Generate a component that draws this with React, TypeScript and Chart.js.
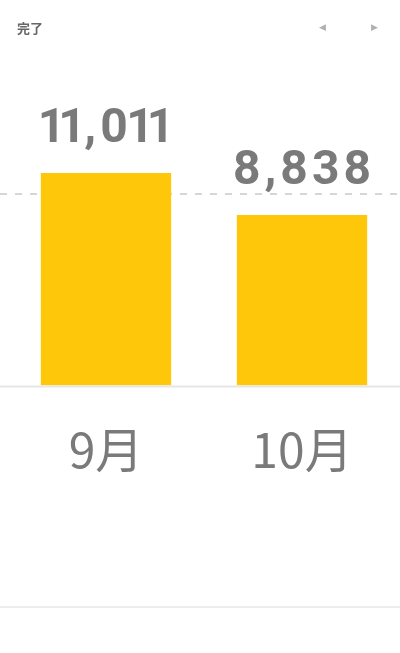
import React, { useEffect, useRef } from 'react';
import { Chart, registerables } from 'chart.js';

Chart.register(...registerables);

// data
const months = ['9月', '10月'];
const completed = [11011, 8838];
const average = [9925];

const grayText = '#7a7a7a';

// draws a centred label with some tracking and a narrow "1" (proportional figures)
function drawLabel(ctx: CanvasRenderingContext2D, text: string, cx: number, y: number) {
  const spacing = 4;
  const oneTrim = 11;
  const adv = (c: string) => ctx.measureText(c).width + spacing - (c === '1' ? oneTrim : 0);
  const chars = text.split('');
  const total = chars.reduce((s, c) => s + adv(c), 0) - spacing;
  let x = cx - total / 2;
  chars.forEach((c) => {
    ctx.fillText(c, c === '1' ? x - oneTrim / 2 : x, y);
    x += adv(c);
  });
}

const lines = {
  id: 'lines',
  beforeDatasetsDraw(chart: any) {
    const { ctx, scales } = chart;
    const w = chart.width;
    // average dashed line
    const yAvg = scales.y.getPixelForValue(average[0]);
    ctx.save();
    ctx.strokeStyle = '#d6d6d6';
    ctx.lineWidth = 2;
    ctx.setLineDash([7, 8]);
    ctx.beginPath();
    ctx.moveTo(0, yAvg);
    ctx.lineTo(w, yAvg);
    ctx.stroke();
    ctx.restore();
  },
  afterDatasetsDraw(chart: any) {
    const { ctx, chartArea } = chart;
    const w = chart.width;
    ctx.save();
    ctx.strokeStyle = '#e6e6e6';
    ctx.lineWidth = 2;
    ctx.beginPath();
    ctx.moveTo(0, chartArea.bottom + 1);
    ctx.lineTo(w, chartArea.bottom + 1);
    ctx.stroke();

    // value labels
    const meta = chart.getDatasetMeta(0);
    ctx.fillStyle = grayText;
    ctx.font = 'bold 48px Roboto, "Noto Sans", sans-serif';
    ctx.textAlign = 'left';
    ctx.textBaseline = 'alphabetic';
    meta.data.forEach((bar: any, i: number) => {
      drawLabel(ctx, completed[i].toLocaleString('en-US'), bar.x, bar.y - 31);
    });
    ctx.restore();
  },
};

const App: React.FC = () => {
  const canvasRef = useRef<HTMLCanvasElement | null>(null);
  const chartRef = useRef<Chart | null>(null);

  useEffect(() => {
    document.body.style.margin = '0';
    if (!canvasRef.current) return;
    const ctx = canvasRef.current.getContext('2d');
    if (!ctx) return;
    if (chartRef.current) {
      chartRef.current.destroy();
      chartRef.current = null;
    }
    chartRef.current = new Chart(ctx, {
      type: 'bar',
      data: {
        labels: months,
        datasets: [
          {
            label: '完了',
            data: completed,
            backgroundColor: '#fec70a',
            borderWidth: 0,
            barPercentage: 0.665,
            categoryPercentage: 1,
          },
        ],
      },
      options: {
        animation: false,
        responsive: false,
        maintainAspectRatio: false,
        layout: { padding: { top: 96, left: 8, right: 0, bottom: 146 } },
        plugins: {
          legend: { display: false },
          tooltip: { enabled: false },
        },
        scales: {
          y: {
            display: false,
            min: 0,
            max: 15000,
          },
          x: {
            grid: { display: false },
            border: { display: false },
            ticks: {
              color: grayText,
              padding: 28,
              font: { size: 48, family: '"Noto Sans CJK JP", "Noto Sans", sans-serif' },
            },
          },
        },
      },
      plugins: [lines],
    });
    return () => {
      if (chartRef.current) {
        chartRef.current.destroy();
        chartRef.current = null;
      }
    };
  }, []);

  return (
    <div style={{ position: 'relative', width: 400, height: 653, background: '#fff', overflow: 'hidden' }}>
      <canvas ref={canvasRef} width={400} height={653} style={{ position: 'absolute', left: 0, top: 0 }} />
      <div
        style={{
          position: 'absolute',
          left: 17,
          top: 18,
          fontFamily: '"Noto Sans CJK JP", sans-serif',
          fontWeight: 'bold',
          fontSize: 13,
          color: '#666',
        }}
      >
        完了
      </div>
      <div style={{ position: 'absolute', left: 319, top: 22, fontSize: 9, color: '#b0b0b0', fontFamily: '"DejaVu Sans", sans-serif' }}>◀</div>
      <div style={{ position: 'absolute', left: 371, top: 22, fontSize: 9, color: '#b0b0b0', fontFamily: '"DejaVu Sans", sans-serif' }}>▶</div>
      <div style={{ position: 'absolute', left: 0, top: 606, width: 400, height: 2, background: '#ececec' }} />
    </div>
  );
};

export default App;
